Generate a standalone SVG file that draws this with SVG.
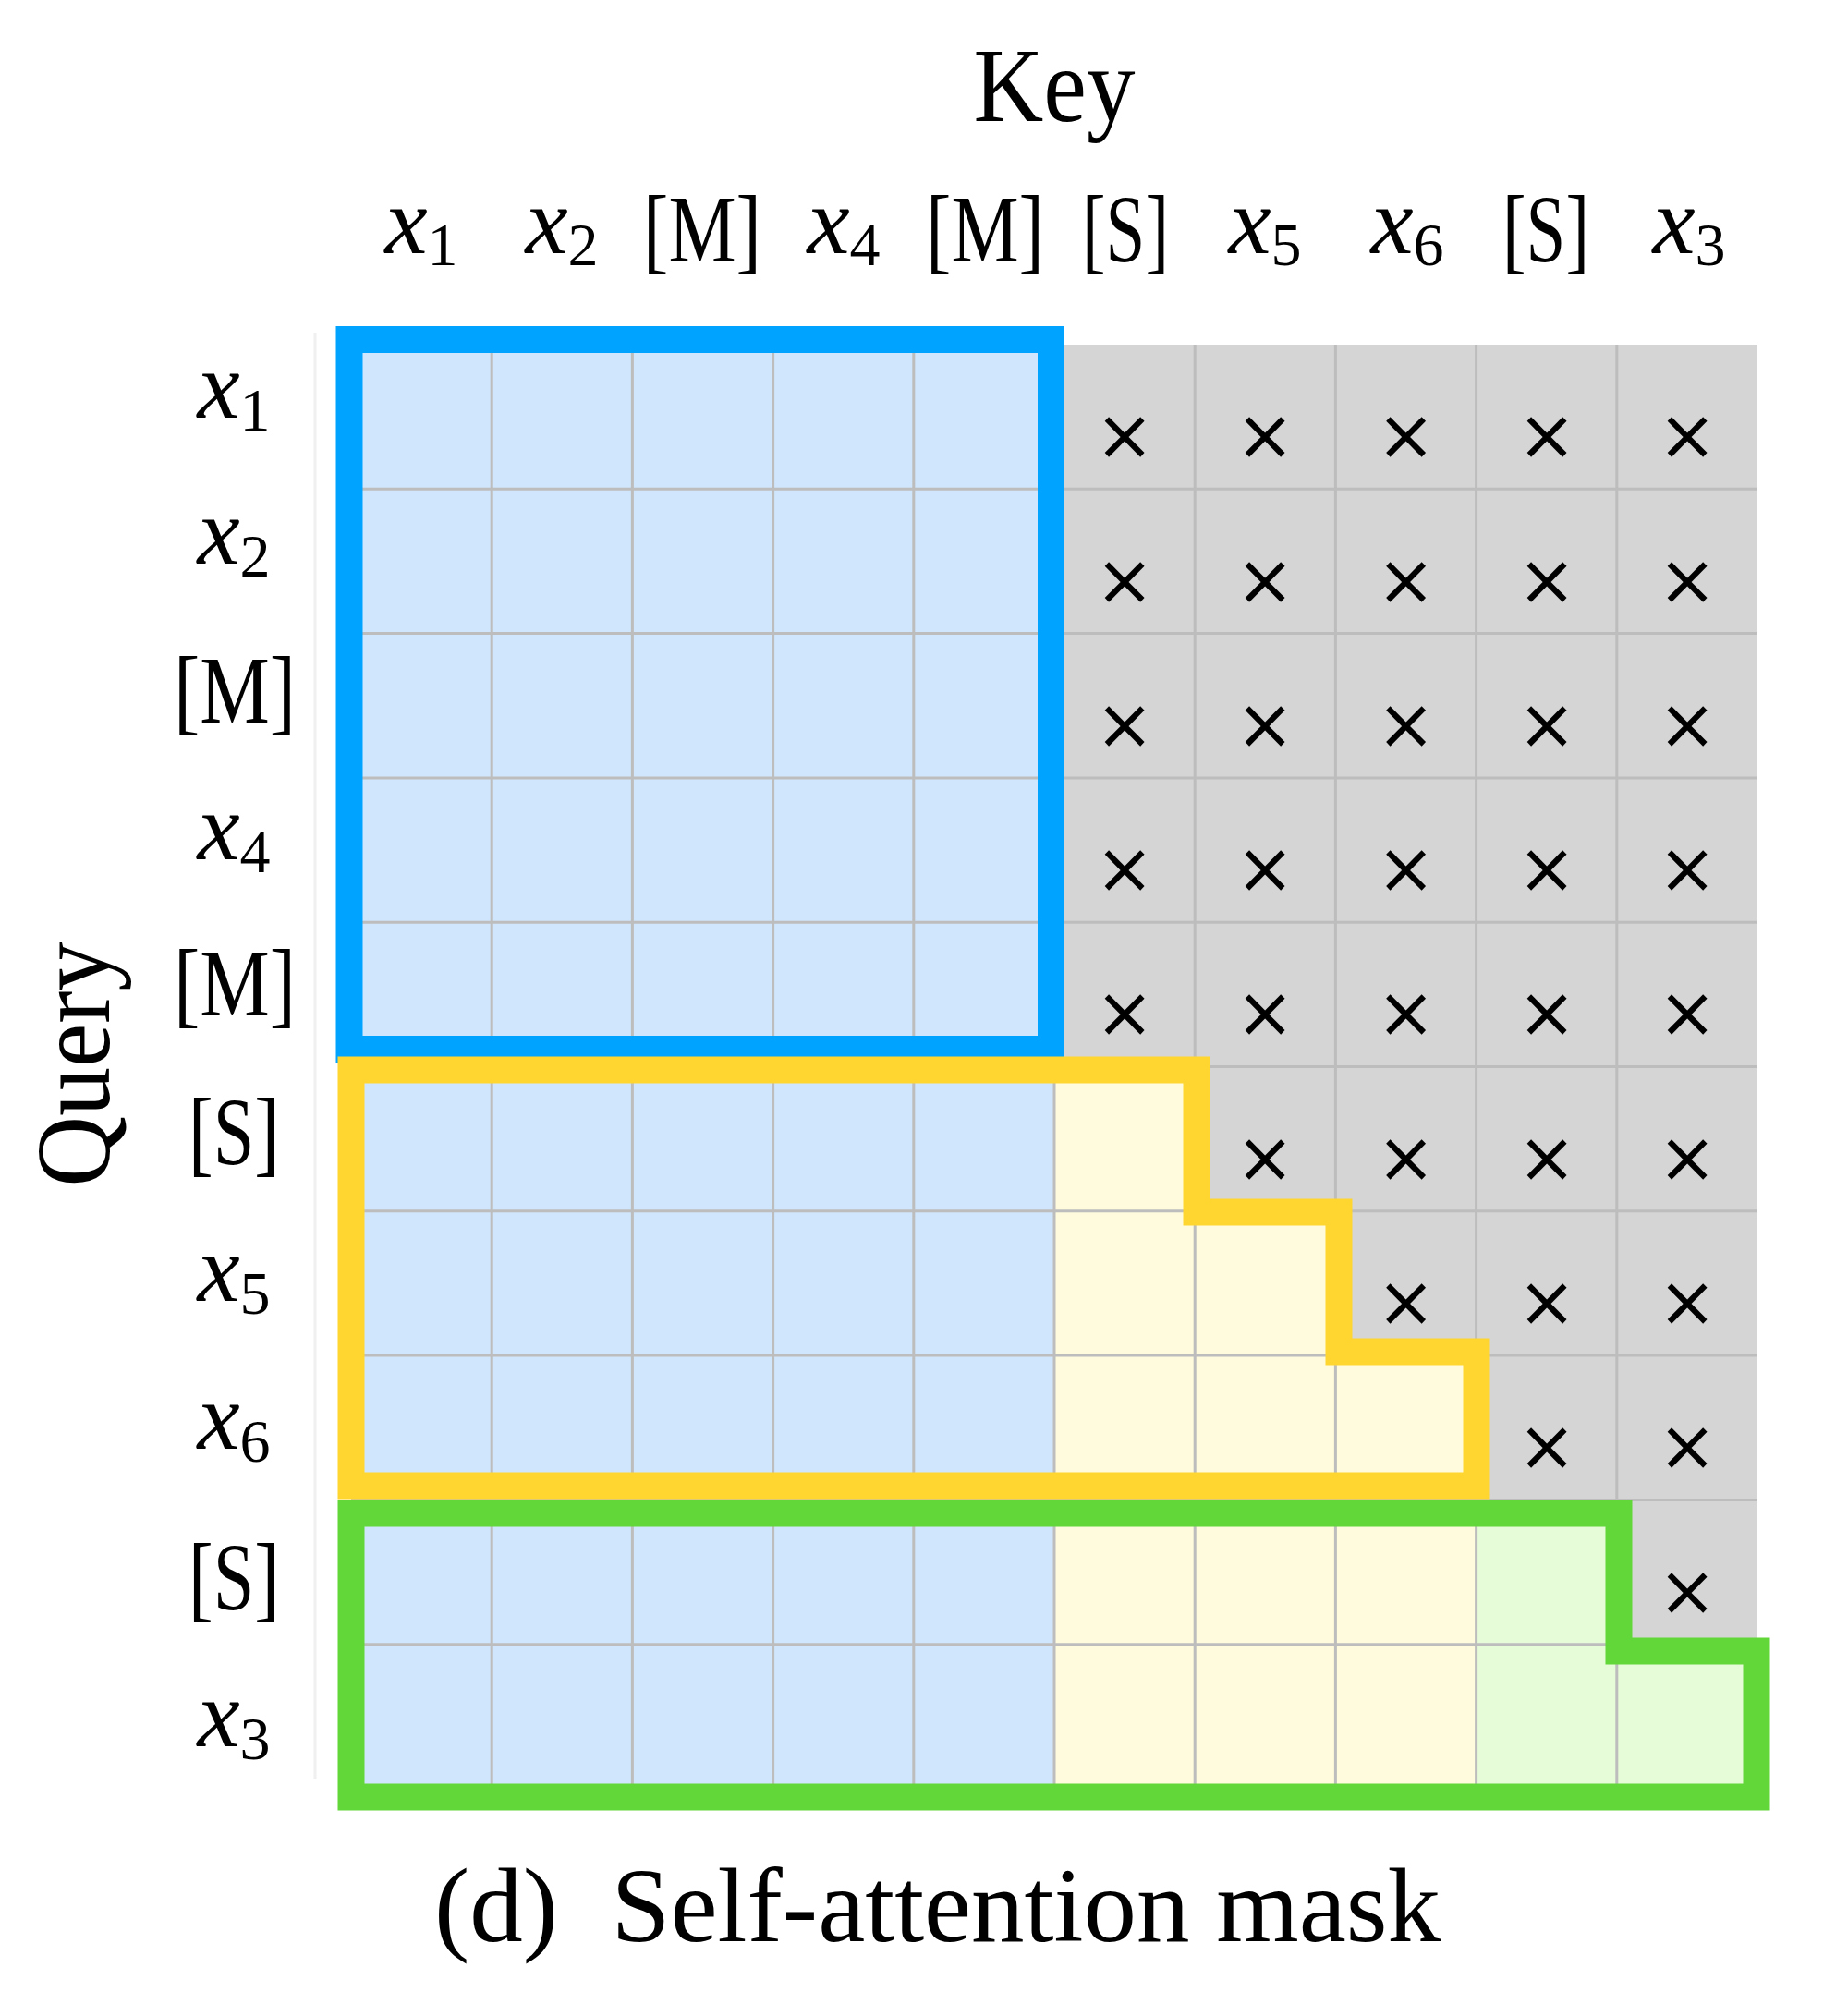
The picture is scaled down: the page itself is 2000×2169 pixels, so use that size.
<svg xmlns="http://www.w3.org/2000/svg" width="2000" height="2169" viewBox="0 0 2000 2169">
<style>
.t{font-family:"Liberation Serif","Times New Roman",serif;fill:#000}
.i{font-style:italic}
.m{font-family:"DejaVu Sans",sans-serif;font-size:76px;text-anchor:middle;fill:#000}
.gl{stroke:#bdbdbd;stroke-width:3;fill:none}
.fr{fill:none;stroke-width:29;stroke-linejoin:miter}
</style>
<rect x="0" y="0" width="2000" height="2169" fill="#ffffff"/>
<line x1="341" y1="360" x2="341" y2="1925" stroke="#f0f0f0" stroke-width="3"/>
<g id="cells">
<rect x="380" y="373" width="1522" height="1563" fill="#d5d5d5"/>
<rect x="380" y="373" width="761" height="1563" fill="#d0e6fc"/>
<path d="M1141,1154.5 H1293.2 V1310.8 H1445.4 V1467.1 H1597.6 V1936 H1141 Z" fill="#fffbdc"/>
<path d="M1597.6,1623.4 H1749.8 V1779.7 H1902 V1936 H1597.6 Z" fill="#e6fbd8"/>
</g>
<g id="grid" class="gl">
<path d="M532.2,373V1936M684.4,373V1936M836.6,373V1936M988.8,373V1936M1141,373V1936M1293.2,373V1936M1445.4,373V1936M1597.6,373V1936M1749.8,373V1936"/>
<path d="M380,529.3H1902M380,685.6H1902M380,841.9H1902M380,998.2H1902M380,1154.5H1902M380,1310.8H1902M380,1467.1H1902M380,1623.4H1902M380,1779.7H1902"/>
</g>
<g id="masked">
<text class="m" x="1217" y="497">×</text><text class="m" x="1369" y="497">×</text><text class="m" x="1521.5" y="497">×</text><text class="m" x="1674" y="497">×</text><text class="m" x="1826" y="497">×</text>
<text class="m" x="1217" y="653.5">×</text><text class="m" x="1369" y="653.5">×</text><text class="m" x="1521.5" y="653.5">×</text><text class="m" x="1674" y="653.5">×</text><text class="m" x="1826" y="653.5">×</text>
<text class="m" x="1217" y="809.8">×</text><text class="m" x="1369" y="809.8">×</text><text class="m" x="1521.5" y="809.8">×</text><text class="m" x="1674" y="809.8">×</text><text class="m" x="1826" y="809.8">×</text>
<text class="m" x="1217" y="966">×</text><text class="m" x="1369" y="966">×</text><text class="m" x="1521.5" y="966">×</text><text class="m" x="1674" y="966">×</text><text class="m" x="1826" y="966">×</text>
<text class="m" x="1217" y="1122.4">×</text><text class="m" x="1369" y="1122.4">×</text><text class="m" x="1521.5" y="1122.4">×</text><text class="m" x="1674" y="1122.4">×</text><text class="m" x="1826" y="1122.4">×</text>
<text class="m" x="1369" y="1278.7">×</text><text class="m" x="1521.5" y="1278.7">×</text><text class="m" x="1674" y="1278.7">×</text><text class="m" x="1826" y="1278.7">×</text>
<text class="m" x="1521.5" y="1435">×</text><text class="m" x="1674" y="1435">×</text><text class="m" x="1826" y="1435">×</text>
<text class="m" x="1674" y="1591.3">×</text><text class="m" x="1826" y="1591.3">×</text>
<text class="m" x="1826" y="1747.6">×</text>
</g>
<g id="frames">
<rect id="blue-frame" class="fr" x="378" y="367.5" width="759.5" height="768" stroke="#00a3ff"/>
<path id="yellow-frame" class="fr" d="M380,1158 H1295 V1312 H1449 V1463 H1598 V1608 H380 Z" stroke="#ffd530"/>
<path id="green-frame" class="fr" d="M380,1638 H1752 V1787 H1901 V1945 H380 Z" stroke="#62d739"/>
</g>
<g id="key-labels">
<text class="t" x="1141" y="131" font-size="115" text-anchor="middle" textLength="175" lengthAdjust="spacingAndGlyphs">Key</text>
<text class="t" x="456" y="274" text-anchor="middle"><tspan class="i" font-size="104">x</tspan><tspan font-size="66" dy="13">1</tspan></text>
<text class="t" x="608" y="274" text-anchor="middle"><tspan class="i" font-size="104">x</tspan><tspan font-size="66" dy="13">2</tspan></text>
<text class="t" x="760" y="283" font-size="104" text-anchor="middle" textLength="128" lengthAdjust="spacingAndGlyphs">[M]</text>
<text class="t" x="913" y="274" text-anchor="middle"><tspan class="i" font-size="104">x</tspan><tspan font-size="66" dy="13">4</tspan></text>
<text class="t" x="1066" y="283" font-size="104" text-anchor="middle" textLength="128" lengthAdjust="spacingAndGlyphs">[M]</text>
<text class="t" x="1218" y="283" font-size="104" text-anchor="middle" textLength="94" lengthAdjust="spacingAndGlyphs">[S]</text>
<text class="t" x="1369" y="274" text-anchor="middle"><tspan class="i" font-size="104">x</tspan><tspan font-size="66" dy="13">5</tspan></text>
<text class="t" x="1523" y="274" text-anchor="middle"><tspan class="i" font-size="104">x</tspan><tspan font-size="66" dy="13">6</tspan></text>
<text class="t" x="1673" y="283" font-size="104" text-anchor="middle" textLength="94" lengthAdjust="spacingAndGlyphs">[S]</text>
<text class="t" x="1828" y="274" text-anchor="middle"><tspan class="i" font-size="104">x</tspan><tspan font-size="66" dy="13">3</tspan></text>
</g>
<g id="query-labels">
<text class="t" transform="translate(118,1152) rotate(-90)" font-size="115" text-anchor="middle" textLength="265" lengthAdjust="spacingAndGlyphs">Query</text>
<text class="t" x="253" y="452" text-anchor="middle"><tspan class="i" font-size="104">x</tspan><tspan font-size="66" dy="14">1</tspan></text>
<text class="t" x="253" y="610" text-anchor="middle"><tspan class="i" font-size="104">x</tspan><tspan font-size="66" dy="14">2</tspan></text>
<text class="t" x="254" y="782" font-size="104" text-anchor="middle" textLength="132" lengthAdjust="spacingAndGlyphs">[M]</text>
<text class="t" x="253" y="930" text-anchor="middle"><tspan class="i" font-size="104">x</tspan><tspan font-size="66" dy="14">4</tspan></text>
<text class="t" x="254" y="1099" font-size="104" text-anchor="middle" textLength="132" lengthAdjust="spacingAndGlyphs">[M]</text>
<text class="t" x="253" y="1260" font-size="104" text-anchor="middle" textLength="98" lengthAdjust="spacingAndGlyphs">[S]</text>
<text class="t" x="253" y="1408" text-anchor="middle"><tspan class="i" font-size="104">x</tspan><tspan font-size="66" dy="14">5</tspan></text>
<text class="t" x="253" y="1568" text-anchor="middle"><tspan class="i" font-size="104">x</tspan><tspan font-size="66" dy="14">6</tspan></text>
<text class="t" x="253" y="1742" font-size="104" text-anchor="middle" textLength="98" lengthAdjust="spacingAndGlyphs">[S]</text>
<text class="t" x="253" y="1890" text-anchor="middle"><tspan class="i" font-size="104">x</tspan><tspan font-size="66" dy="14">3</tspan></text>
</g>
<text id="caption" class="t" x="470" y="2101" font-size="115">(d)&#160;&#160;Self-attention mask</text>
</svg>
